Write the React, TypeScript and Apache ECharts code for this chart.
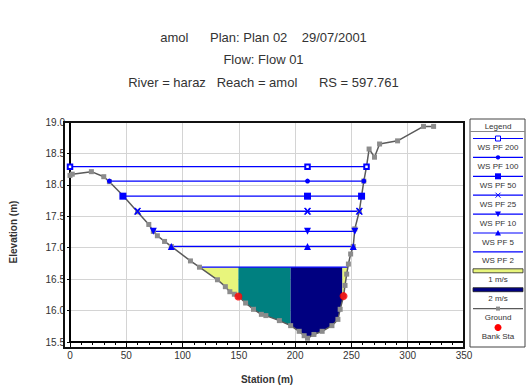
import React, { useEffect, useRef } from "react";
import * as echarts from "echarts";

// Ground profile of the cross section (station m, elevation m)
const groundStation = [
  0, 2, 19, 30, 35, 47, 60, 70, 74, 77.6, 84, 90, 107, 115, 131, 138, 142, 146,
  150, 156, 163, 170, 174, 186, 196, 203.6, 208, 211, 216.7, 224, 232.7, 238,
  240, 243, 244.3, 245.8, 247.3, 249.3, 251.6, 253, 257, 259, 261, 263.4, 265.7,
  270.5, 275, 291, 314, 323,
];
const groundElev = [
  18.15, 18.17, 18.21, 18.13, 18.05, 17.83, 17.57, 17.37, 17.26, 17.19, 17.1,
  17.02, 16.79, 16.69, 16.49, 16.38, 16.3, 16.26, 16.22, 16.12, 16.02, 15.94,
  15.92, 15.84, 15.76, 15.67, 15.6, 15.56, 15.62, 15.67, 15.76, 15.86, 16.02,
  16.23, 16.4, 16.58, 16.74, 16.9, 17.02, 17.3, 17.58, 17.82, 18.06, 18.29,
  18.57, 18.44, 18.65, 18.7, 18.93, 18.93,
];

// Water surface profiles
const wsNames = ["WS PF 200", "WS PF 100", "WS PF 50", "WS PF 25", "WS PF 10", "WS PF 5", "WS PF 2"];
const wsElev = [18.29, 18.06, 17.82, 17.58, 17.26, 17.02, 16.69];
const wsLeft = [0, 35, 47, 60, 74, 90, 115];
const wsRight = [263.4, 261, 259, 257, 253, 251.6, 246.8];
const wsMid = 211;

// Velocity distribution bands for the lowest profile
const velEdges = [115, 149.6, 196, 242, 246.8];
const velLevel = 16.69;
const velColors = ["#e8f57c", "#008080", "#000080", "#e8f57c"];

// Bank stations
const bankSta = [149.6, 243];

const xTicks = { min: 0, max: 350, interval: 50 };
const yTicks = { min: 15.5, max: 19.0, interval: 0.5 };

const BLUE = "#0000ff";
const GROUND_LINE = "#5a5a5a";
const GROUND_PT = "#8c8c8c";

function groundAt(s: number): number {
  for (let i = 0; i < groundStation.length - 1; i++) {
    const a = groundStation[i];
    const b = groundStation[i + 1];
    if (s >= a && s <= b) {
      const t = b === a ? 0 : (s - a) / (b - a);
      return groundElev[i] + t * (groundElev[i + 1] - groundElev[i]);
    }
  }
  return groundElev[groundElev.length - 1];
}

function bandPolygon(a: number, b: number): number[][] {
  const pts: number[][] = [
    [a, velLevel],
    [b, velLevel],
    [b, groundAt(b)],
  ];
  for (let i = groundStation.length - 1; i >= 0; i--) {
    const s = groundStation[i];
    if (s > a && s < b) pts.push([s, groundElev[i]]);
  }
  pts.push([a, groundAt(a)]);
  return pts;
}

const wsSymbols: { symbol: string; size: number; rotate?: number }[] = [
  { symbol: "emptyRect", size: 4.5 },
  { symbol: "circle", size: 5 },
  { symbol: "rect", size: 7 },
  { symbol: "path://M0,0L2,0L5,4L8,0L10,0L6,5L10,10L8,10L5,6L2,10L0,10L4,5Z", size: 6 },
  { symbol: "triangle", size: 7, rotate: 180 },
  { symbol: "triangle", size: 7 },
  { symbol: "none", size: 0 },
];

function legendGraphics() {
  const els: any[] = [];
  const left = 470;
  const top = 119;
  const w = 55;
  const h = 228;
  const x0 = 473;
  const x1 = 523;
  const cx = 498;
  const font = "8px 'Liberation Sans', Arial, sans-serif";
  els.push({
    type: "rect",
    shape: { x: left, y: top, width: w, height: h },
    style: { fill: "#fff", stroke: "#444", lineWidth: 1 },
  });
  els.push({
    type: "line",
    shape: { x1: left, y1: 131.5, x2: left + w, y2: 131.5 },
    style: { stroke: "#888", lineWidth: 1 },
  });
  els.push({
    type: "text",
    x: cx,
    y: 126,
    style: { text: "Legend", font, fill: "#333", align: "center", verticalAlign: "middle" },
  });
  const step = 18.9;
  const labels = [...wsNames, "1 m/s", "2 m/s", "Ground", "Bank Sta"];
  labels.forEach((lab, i) => {
    const ly = 138.5 + i * step;
    if (i < wsNames.length) {
      els.push({
        type: "line",
        shape: { x1: x0, y1: ly, x2: x1, y2: ly },
        style: { stroke: BLUE, lineWidth: 1.2 },
      });
      const kind = i;
      if (kind === 0) {
        els.push({ type: "rect", shape: { x: cx - 2.5, y: ly - 2.5, width: 5, height: 5 }, style: { fill: "#fff", stroke: BLUE, lineWidth: 1 } });
      } else if (kind === 1) {
        els.push({ type: "circle", shape: { cx, cy: ly, r: 2.2 }, style: { fill: BLUE } });
      } else if (kind === 2) {
        els.push({ type: "rect", shape: { x: cx - 3, y: ly - 3, width: 6, height: 6 }, style: { fill: BLUE } });
      } else if (kind === 3) {
        els.push({ type: "line", shape: { x1: cx - 2.5, y1: ly - 2.5, x2: cx + 2.5, y2: ly + 2.5 }, style: { stroke: BLUE, lineWidth: 1 } });
        els.push({ type: "line", shape: { x1: cx + 2.5, y1: ly - 2.5, x2: cx - 2.5, y2: ly + 2.5 }, style: { stroke: BLUE, lineWidth: 1 } });
      } else if (kind === 4) {
        els.push({ type: "polygon", shape: { points: [[cx - 3, ly - 2.5], [cx + 3, ly - 2.5], [cx, ly + 3]] }, style: { fill: BLUE } });
      } else if (kind === 5) {
        els.push({ type: "polygon", shape: { points: [[cx - 3, ly + 2.5], [cx + 3, ly + 2.5], [cx, ly - 3]] }, style: { fill: BLUE } });
      }
    } else if (lab === "1 m/s" || lab === "2 m/s") {
      els.push({
        type: "rect",
        shape: { x: x0, y: ly - 2, width: x1 - x0, height: 4 },
        style: { fill: lab === "1 m/s" ? velColors[0] : velColors[2], stroke: "#222", lineWidth: 0.8 },
      });
    } else if (lab === "Ground") {
      els.push({ type: "line", shape: { x1: x0, y1: ly, x2: x1, y2: ly }, style: { stroke: GROUND_LINE, lineWidth: 1.2 } });
      els.push({ type: "rect", shape: { x: cx - 2, y: ly - 2, width: 4, height: 4 }, style: { fill: GROUND_PT } });
    } else {
      els.push({ type: "circle", shape: { cx, cy: ly, r: 3.5 }, style: { fill: "#ff0000" } });
    }
    els.push({
      type: "text",
      x: cx,
      y: ly + 9,
      style: { text: lab, font, fill: "#333", align: "center", verticalAlign: "middle" },
    });
  });
  return els;
}

export default function App() {
  const ref = useRef<HTMLDivElement>(null);

  useEffect(() => {
    if (!ref.current) return;
    const chart = echarts.init(ref.current, undefined, { renderer: "svg" });

    const bands = velColors.map((c, i) => ({
      color: c,
      poly: bandPolygon(velEdges[i], velEdges[i + 1]),
    }));

    // Water surface lines drawn as plain segments through the axes' scales
    const wsLineSeries = {
      type: "custom",
      name: "ws-lines",
      coordinateSystem: "cartesian2d",
      data: wsElev.map((e, i) => [wsLeft[i], e, wsRight[i]]),
      encode: { x: [0, 2], y: 1 },
      silent: true,
      z: 3,
      renderItem: (params: any, api: any) => {
        const i = params.dataIndex;
        const p0 = api.coord([wsLeft[i], wsElev[i]]);
        const p1 = api.coord([wsRight[i], wsElev[i]]);
        return {
          type: "line",
          shape: { x1: p0[0], y1: p0[1], x2: p1[0], y2: p1[1] },
          style: { stroke: BLUE, lineWidth: 1.3 },
        };
      },
    };

    // Profile markers at both ends and at mid-channel
    const wsMarkerSeries = wsNames
      .map((name, i) => ({ name, i }))
      .filter(({ i }) => wsSymbols[i].symbol !== "none")
      .map(({ name, i }) => ({
        name,
        type: "scatter",
        data: [
          [wsLeft[i], wsElev[i]],
          [wsMid, wsElev[i]],
          [wsRight[i], wsElev[i]],
        ],
        symbol: wsSymbols[i].symbol,
        symbolSize: wsSymbols[i].size,
        symbolRotate: wsSymbols[i].rotate ?? 0,
        itemStyle: {
          color: BLUE,
          borderColor: BLUE,
          borderWidth: i === 0 || i === 3 ? 1 : 0,
          opacity: 1,
        },
        z: 4,
        silent: true,
      }));

    const fontFamily = "'Liberation Sans', Arial, sans-serif";

    chart.setOption({
      animation: false,
      backgroundColor: "#ffffff",
      textStyle: { fontFamily },
      title: [
        { text: "amol      Plan: Plan 02    29/07/2001", top: 31 },
        { text: "Flow: Flow 01", top: 53 },
        { text: "River = haraz   Reach = amol      RS = 597.761", top: 76 },
      ].map((t) => ({
        ...t,
        left: "center",
        padding: 0,
        textStyle: { fontSize: 13, fontWeight: "normal", color: "#333", fontFamily },
      })),
      grid: { left: 64, top: 122, width: 400, height: 226, containLabel: false },
      xAxis: {
        type: "value",
        min: xTicks.min,
        max: xTicks.max,
        interval: xTicks.interval,
        name: "Station (m)",
        nameLocation: "middle",
        nameGap: 32,
        nameTextStyle: { fontSize: 10, color: "#333", fontWeight: "bold" },
        axisLine: { lineStyle: { color: "#000", width: 2 } },
        axisTick: { show: true, length: 5, lineStyle: { color: "#000" } },
        minorTick: { show: true, splitNumber: 5, length: 3, lineStyle: { color: "#000" } },
        axisLabel: { fontSize: 10, color: "#333", margin: 8 },
        splitLine: { show: true, lineStyle: { color: "#d4d4d4", width: 1 } },
      },
      yAxis: {
        type: "value",
        min: yTicks.min,
        max: yTicks.max,
        interval: yTicks.interval,
        name: "Elevation (m)",
        nameLocation: "middle",
        nameGap: 52,
        nameTextStyle: { fontSize: 10, color: "#333", fontWeight: "bold" },
        axisLine: { show: true, lineStyle: { color: "#000", width: 2 } },
        axisTick: { show: true, length: 3, lineStyle: { color: "#000" } },
        axisLabel: { fontSize: 10, color: "#333", margin: 5, formatter: (v: number) => v.toFixed(1) },
        splitLine: { show: true, lineStyle: { color: "#d4d4d4", width: 1 } },
      },
      graphic: [
        {
          type: "rect",
          shape: { x: 64, y: 122, width: 400, height: 226 },
          style: { fill: "none", stroke: "#111", lineWidth: 2 },
          z: 10,
          silent: true,
        },
        ...legendGraphics(),
      ],
      series: [
        {
          type: "custom",
          name: "velocity",
          coordinateSystem: "cartesian2d",
          data: bands.map((b) => b.poly[0]),
          silent: true,
          z: 1,
          renderItem: (params: any, api: any) => {
            const b = bands[params.dataIndex];
            return {
              type: "polygon",
              shape: { points: b.poly.map((p) => api.coord(p)) },
              style: { fill: b.color, stroke: "none" },
            };
          },
        },
        wsLineSeries,
        {
          name: "Ground",
          type: "line",
          data: groundStation.map((s, i) => [s, groundElev[i]]),
          symbol: "rect",
          symbolSize: 5,
          showAllSymbol: true,
          lineStyle: { color: GROUND_LINE, width: 1.5 },
          itemStyle: { color: GROUND_PT },
          z: 4,
          silent: true,
        },
        ...wsMarkerSeries,
        {
          name: "Bank Sta",
          type: "scatter",
          data: bankSta.map((s) => [s, groundAt(s)]),
          symbol: "circle",
          symbolSize: 8,
          itemStyle: { color: "#ff0000" },
          z: 5,
          silent: true,
        },
      ],
    });

    return () => chart.dispose();
  }, []);

  return (
    <div
      ref={ref}
      style={{ position: "fixed", left: 0, top: 0, width: 527, height: 389, background: "#fff" }}
    />
  );
}
